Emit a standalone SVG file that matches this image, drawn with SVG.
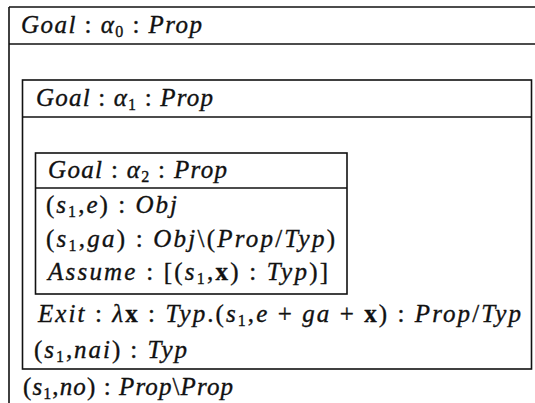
<svg xmlns="http://www.w3.org/2000/svg" width="535" height="403" viewBox="0 0 535 403">
<style>
.bx{fill:none;stroke:#111;stroke-width:1.6}
.ln{stroke:#111;stroke-width:1.6}
text{font-family:"Liberation Serif","Times New Roman",serif;font-size:25px;font-style:italic;fill:#111;stroke:#111;stroke-width:0.35}
.u{font-style:normal}
.b{font-style:normal;font-weight:bold}
.s{font-style:normal;font-size:16px}
</style>
<rect width="535" height="403" fill="#fff"/>
<g id="goal0">
<line class="ln" x1="9" y1="7" x2="535" y2="7"/>
<line class="ln" x1="9" y1="44" x2="535" y2="44"/>
<line class="ln" x1="9" y1="7" x2="9" y2="403"/>
<text x="21" y="33" textLength="181" lengthAdjust="spacing">Goal <tspan class="u">:</tspan> α<tspan class="s" dy="4">0</tspan><tspan dy="-4"> </tspan><tspan class="u">:</tspan> Prop</text>
<text x="23" y="395" textLength="210" lengthAdjust="spacing"><tspan class="u">(</tspan>s<tspan class="s" dy="4">1</tspan><tspan class="u" dy="-4">,</tspan>no<tspan class="u">) : </tspan>Prop<tspan class="u">\</tspan>Prop</text>
</g>
<g id="goal1">
<rect class="bx" x="22.5" y="80" width="509" height="289"/>
<line class="ln" x1="22.5" y1="117" x2="531.5" y2="117"/>
<text x="36" y="106" textLength="177" lengthAdjust="spacing">Goal <tspan class="u">:</tspan> α<tspan class="s" dy="4">1</tspan><tspan dy="-4"> </tspan><tspan class="u">:</tspan> Prop</text>
<text x="38" y="322" textLength="483" lengthAdjust="spacing">Exit <tspan class="u">:  </tspan>λ<tspan class="b">x</tspan><tspan class="u"> : </tspan>Typ<tspan class="u">.(</tspan>s<tspan class="s" dy="4">1</tspan><tspan class="u" dy="-4">,</tspan>e <tspan class="u">+</tspan> ga <tspan class="u">+ </tspan><tspan class="b">x</tspan><tspan class="u">) : </tspan>Prop<tspan class="u">/</tspan>Typ</text>
<text x="34" y="358" textLength="153" lengthAdjust="spacing"><tspan class="u">(</tspan>s<tspan class="s" dy="4">1</tspan><tspan class="u" dy="-4">,</tspan>nai<tspan class="u">) : </tspan>Typ</text>
</g>
<g id="goal2">
<rect class="bx" x="35.5" y="153" width="311.5" height="141"/>
<line class="ln" x1="35.5" y1="188" x2="347" y2="188"/>
<text x="48" y="178" textLength="179" lengthAdjust="spacing">Goal <tspan class="u">:</tspan> α<tspan class="s" dy="4">2</tspan><tspan dy="-4"> </tspan><tspan class="u">:</tspan> Prop</text>
<text x="46" y="213" textLength="131" lengthAdjust="spacing"><tspan class="u">(</tspan>s<tspan class="s" dy="4">1</tspan><tspan class="u" dy="-4">,</tspan>e<tspan class="u">) : </tspan>Obj</text>
<text x="46" y="247" textLength="289" lengthAdjust="spacing"><tspan class="u">(</tspan>s<tspan class="s" dy="4">1</tspan><tspan class="u" dy="-4">,</tspan>ga<tspan class="u">) : </tspan>Obj<tspan class="u">\(</tspan>Prop<tspan class="u">/</tspan>Typ<tspan class="u">)</tspan></text>
<text x="48" y="280" textLength="280" lengthAdjust="spacing">Assume <tspan class="u">:  [(</tspan>s<tspan class="s" dy="4">1</tspan><tspan class="u" dy="-4">,</tspan><tspan class="b">x</tspan><tspan class="u">) : </tspan>Typ<tspan class="u">)]</tspan></text>
</g>
<g id="connectors"/>
</svg>
